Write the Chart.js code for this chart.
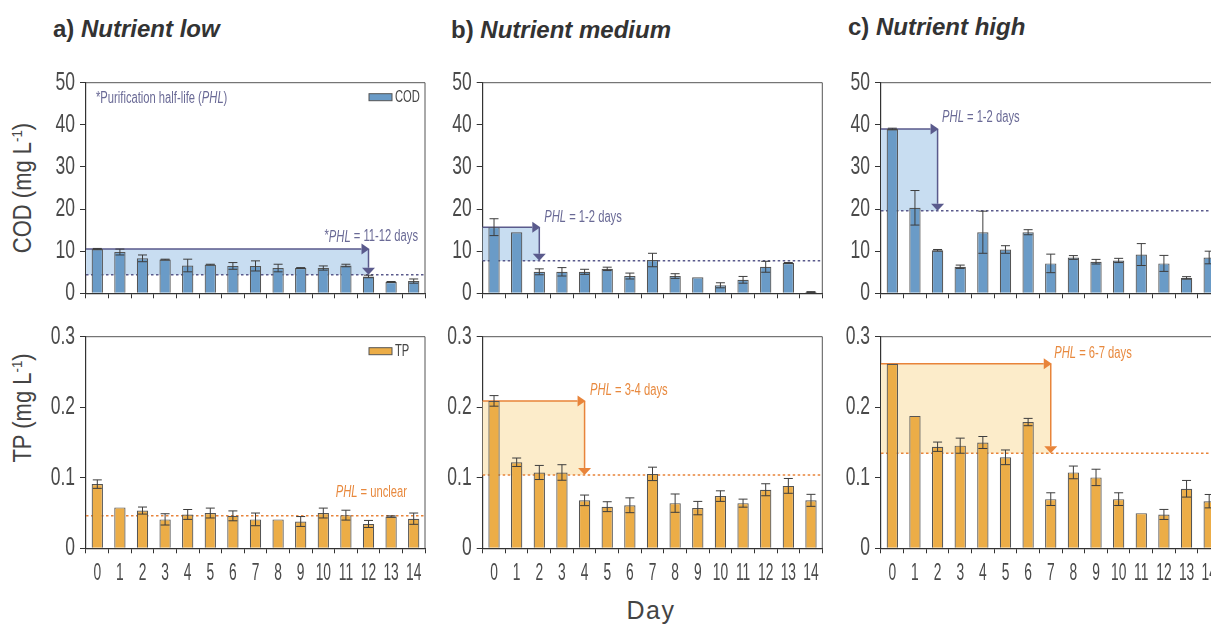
<!DOCTYPE html>
<html>
<head>
<meta charset="utf-8">
<script src="https://cdn.jsdelivr.net/npm/chart.js@4.4.1/dist/chart.umd.min.js"></script>
<style>
html, body { margin: 0; padding: 0; background: #fff; }
body { position: relative; width: 1211px; height: 626px; overflow: hidden; font-family: 'Liberation Sans', Arial, sans-serif; }
canvas { position: absolute; }
.title { position: absolute; font-size: 24px; line-height: 1; font-weight: bold; color: #333; white-space: nowrap; }
.ylab { position: absolute; font-size: 25px; line-height: 1; color: #444; white-space: nowrap;
        transform: translate(-50%, -50%) rotate(-90deg) scaleX(0.88); }
.ylab sup { font-size: 60%; vertical-align: 0.55em; }
.xlab { position: absolute; font-size: 25px; line-height: 1; color: #444; letter-spacing: 1.5px; transform: translateX(-50%); }
</style>
</head>
<body>
<div class="title" style="left:53px; top:17px">a) <i>Nutrient low</i></div>
<div class="title" style="left:451px; top:18px">b) <i>Nutrient medium</i></div>
<div class="title" style="left:848px; top:15px">c) <i>Nutrient high</i></div>
<div class="ylab" style="left:22px; top:188px">COD (mg L<sup>-1</sup>)</div>
<div class="ylab" style="left:22px; top:408px">TP (mg L<sup>-1</sup>)</div>
<div class="xlab" style="left:651px; top:598px">Day</div>

<canvas id="aTop"></canvas>
<canvas id="aBot"></canvas>
<canvas id="bTop"></canvas>
<canvas id="bBot"></canvas>
<canvas id="cTop"></canvas>
<canvas id="cBot"></canvas>

<script>
// categories
const days = ['0', '1', '2', '3', '4', '5', '6', '7', '8', '9', '10', '11', '12', '13', '14']
const codTicks = ['0', '10', '20', '30', '40', '50']
const tpTicks = ['0', '0.1', '0.2', '0.3']

// COD (mg/L), mean and error
const codLow = [10.5, 9.8, 8.3, 8.0, 6.6, 6.8, 6.5, 6.5, 6.0, 6.0, 6.0, 6.6, 4.0, 2.7, 2.9]
const codLowErr = [0.15, 0.7, 0.8, 0.1, 1.5, 0.1, 0.8, 1.2, 0.9, 0.1, 0.5, 0.3, 0.3, 0.1, 0.5]
const codMed = [15.7, 14.5, 5.1, 5.1, 5.1, 5.8, 4.1, 7.9, 4.1, 3.8, 1.9, 3.2, 6.3, 7.2, 0.3]
const codMedErr = [2.0, 0, 0.7, 1.0, 0.6, 0.4, 0.7, 1.6, 0.55, 0, 0.6, 0.8, 1.3, 0.1, 0.1]
const codHigh = [39.0, 20.3, 10.2, 6.3, 14.5, 10.4, 14.5, 7.1, 8.5, 7.5, 7.8, 9.2, 7.1, 3.65, 8.5]
const codHighErr = [0.2, 4.1, 0.2, 0.4, 5.0, 0.9, 0.6, 2.2, 0.45, 0.55, 0.5, 2.6, 1.9, 0.3, 1.5]

// TP (mg/L), mean and error
const tpLow = [0.091, 0.058, 0.0535, 0.041, 0.048, 0.050, 0.046, 0.041, 0.041, 0.038, 0.050, 0.047, 0.0345, 0.045, 0.042]
const tpLowErr = [0.006, 0, 0.005, 0.008, 0.007, 0.007, 0.007, 0.009, 0, 0.007, 0.007, 0.007, 0.005, 0.001, 0.008]
const tpMed = [0.209, 0.122, 0.1075, 0.1075, 0.068, 0.059, 0.061, 0.1055, 0.064, 0.057, 0.074, 0.064, 0.083, 0.0885, 0.068]
const tpMedErr = [0.0075, 0.006, 0.01, 0.011, 0.0075, 0.007, 0.0105, 0.0095, 0.013, 0.0095, 0.0075, 0.0057, 0.0085, 0.0105, 0.0085]
const tpHigh = [0.2616, 0.1877, 0.144, 0.1455, 0.150, 0.129, 0.179, 0.0697, 0.1076, 0.1005, 0.0697, 0.0498, 0.048, 0.0844, 0.0668]
const tpHighErr = [0, 0, 0.0066, 0.0107, 0.0085, 0.0104, 0.0052, 0.009, 0.009, 0.0116, 0.009, 0, 0.0071, 0.0118, 0.0095]

// purification half-life: half level, day reached, note
const codPhlLevel = [4.4, 7.7, 19.6]
const codPhlDay = [12, 2, 2]
const codPhlNote = ['*PHL = 11-12 days', 'PHL = 1-2 days', 'PHL = 1-2 days']
const tpPhlLevel = [0.046, 0.104, 0.1346]
const tpPhlDay = [null, 4, 7]
const tpPhlNote = ['PHL = unclear', 'PHL = 3-4 days', 'PHL = 6-7 days']

const BLUE = '#6a9bc7'
const ORANGE = '#ecad47'
const COD_INK = '#5a5a8c'
const TP_INK = '#e8843a'
const FONT = "'Liberation Sans', Arial, sans-serif"

// text squeezed horizontally like the figure's condensed type; "PHL" in italic
function squeezeText(ctx, text, x, y, align, size, sx, color) {
  const parts = []
  text.split('PHL').forEach((s, i) => {
    if (i > 0) parts.push({ t: 'PHL', it: true })
    if (s) parts.push({ t: s, it: false })
  })
  ctx.save()
  ctx.fillStyle = color
  ctx.textBaseline = 'middle'
  ctx.textAlign = 'left'
  let w = 0
  parts.forEach(p => {
    ctx.font = (p.it ? 'italic ' : '') + size + 'px ' + FONT
    p.w = ctx.measureText(p.t).width
    w += p.w
  })
  let x0 = x
  if (align === 'right') x0 = x - w * sx
  else if (align === 'center') x0 = x - w * sx / 2
  ctx.translate(x0, y)
  ctx.scale(sx, 1)
  let px = 0
  parts.forEach(p => {
    ctx.font = (p.it ? 'italic ' : '') + size + 'px ' + FONT
    ctx.fillText(p.t, px, 0)
    px += p.w
  })
  ctx.restore()
}

function phlPlugin(o) {
  return {
    id: 'phl',
    beforeDatasetsDraw(chart) {
      const { ctx, chartArea: a, scales: { x, y } } = chart
      const yLine = y.getPixelForValue(o.level)
      ctx.save()
      if (o.day !== null) {
        const xa = x.getPixelForValue(o.day)
        const yTop = y.getPixelForValue(o.from)
        ctx.fillStyle = o.shade
        ctx.fillRect(a.left, yTop, xa - a.left, yLine - yTop)
        ctx.strokeStyle = o.ink
        ctx.fillStyle = o.ink
        ctx.lineWidth = 1.5
        ctx.beginPath()
        ctx.moveTo(a.left, yTop); ctx.lineTo(xa - 7, yTop)
        ctx.moveTo(xa, yTop); ctx.lineTo(xa, yLine - 7)
        ctx.stroke()
        ctx.beginPath()
        ctx.moveTo(xa + 1, yTop); ctx.lineTo(xa - 7, yTop - 5.5); ctx.lineTo(xa - 7, yTop + 5.5)
        ctx.closePath(); ctx.fill()
        ctx.beginPath()
        ctx.moveTo(xa, yLine); ctx.lineTo(xa - 6.5, yLine - 7); ctx.lineTo(xa + 6.5, yLine - 7)
        ctx.closePath(); ctx.fill()
      }
      ctx.setLineDash([2.5, 2.5])
      ctx.lineWidth = 1.5
      ctx.strokeStyle = o.ink
      ctx.beginPath()
      ctx.moveTo(a.left, yLine); ctx.lineTo(a.right, yLine)
      ctx.stroke()
      ctx.restore()
    },
    afterDatasetsDraw(chart) {
      const { ctx, chartArea: a, scales: { x, y } } = chart
      const ds = chart.data.datasets[0]
      // error bars
      ctx.save()
      ctx.strokeStyle = '#3d3d3d'
      ctx.lineWidth = 1
      ds.data.forEach((v, i) => {
        const e = o.err[i]
        if (!e) return
        const px = x.getPixelForValue(i)
        const y1 = y.getPixelForValue(v + e)
        const y2 = y.getPixelForValue(Math.max(v - e, 0))
        ctx.beginPath()
        ctx.moveTo(px, y1); ctx.lineTo(px, y2)
        ctx.moveTo(px - 4.5, y1); ctx.lineTo(px + 4.5, y1)
        ctx.moveTo(px - 4.5, y2); ctx.lineTo(px + 4.5, y2)
        ctx.stroke()
      })
      // top and right frame
      ctx.strokeStyle = '#555'
      ctx.beginPath()
      ctx.moveTo(a.left, a.top); ctx.lineTo(a.right, a.top); ctx.lineTo(a.right, a.bottom)
      ctx.stroke()
      ctx.restore()

      // PHL note
      const n = o.notePos
      const nx = n.align === 'right' ? a.right + n.dx : x.getPixelForValue(o.day) + n.dx
      const ny = y.getPixelForValue(n.ref === 'line' ? o.level : o.from) + n.dy
      squeezeText(ctx, o.note, nx, ny, n.align, 16, 0.7, o.noteColor)

      if (o.header) squeezeText(ctx, o.header, a.left + 10, a.top + 16, 'left', 16, 0.7, o.noteColor)
      if (o.legend) {
        ctx.save()
        ctx.fillStyle = ds.backgroundColor
        ctx.strokeStyle = '#555'
        ctx.lineWidth = 1
        ctx.fillRect(a.right - 56, a.top + 11, 23, 7)
        ctx.strokeRect(a.right - 56, a.top + 11, 23, 7)
        ctx.restore()
        squeezeText(ctx, ds.label, a.right - 30, a.top + 15, 'left', 16, 0.7, '#444')
      }
    },
    afterDraw(chart) {
      // condensed tick labels at the scales' own tick positions
      const { ctx, chartArea: a, scales: { x, y } } = chart
      y.ticks.forEach((t, i) => {
        squeezeText(ctx, o.yTicks[i], a.left - 11, y.getPixelForTick(i), 'right', 25, 0.7, '#4a4a4a')
      })
      if (o.xLabels) {
        x.ticks.forEach((t, i) => {
          squeezeText(ctx, days[i], x.getPixelForTick(i), a.bottom + 25, 'center', 23, 0.6, '#4a4a4a')
        })
      }
    }
  }
}

function panel(id, rect, area, cfg) {
  const cv = document.getElementById(id)
  cv.width = rect.w
  cv.height = rect.h
  cv.style.left = rect.x + 'px'
  cv.style.top = rect.y + 'px'
  const yWidth = area.l - rect.x
  const xHeight = rect.y + rect.h - area.b
  cfg.phl.yTicks = cfg.ticks
  cfg.phl.xLabels = cfg.xLabels
  return new Chart(cv, {
    type: 'bar',
    data: {
      labels: days,
      datasets: [{
        label: cfg.label,
        data: cfg.values,
        backgroundColor: cfg.color,
        borderColor: '#555',
        borderWidth: 1.2,
        barPercentage: 0.5,
        categoryPercentage: 1
      }]
    },
    options: {
      responsive: false,
      animation: false,
      events: [],
      layout: { padding: { left: 0, top: area.t - rect.y, right: rect.x + rect.w - area.r, bottom: 0 } },
      plugins: { legend: { display: false }, tooltip: { enabled: false } },
      scales: {
        x: {
          offset: true,
          grid: { offset: true, drawOnChartArea: false, tickLength: 5, color: '#333' },
          border: { color: '#333', width: 1.2 },
          ticks: { display: false, autoSkip: false, maxRotation: 0, minRotation: 0 },
          afterFit: s => { s.height = xHeight }
        },
        y: {
          min: 0,
          max: cfg.max,
          ticks: { display: false, stepSize: cfg.step },
          grid: { drawOnChartArea: false, tickLength: 6, color: '#333' },
          border: { color: '#333', width: 1.2 },
          afterFit: s => { s.width = yWidth }
        }
      }
    },
    plugins: [phlPlugin(cfg.phl)]
  })
}

const topRow = { t: 82.7, b: 293.3 }
const botRow = { t: 336.7, b: 548.3 }
const cols = [
  { x: 40, l: 86, r: 425 },
  { x: 440, l: 482.7, r: 822.3 },
  { x: 840, l: 881, r: 1220.5 }
]
const notePlaces = [
  { cod: { align: 'right', dx: -7, dy: -12, ref: 'from' }, tp: { align: 'right', dx: -18, dy: -23, ref: 'line' } },
  { cod: { align: 'left', dx: 5, dy: -9.5, ref: 'from' }, tp: { align: 'left', dx: 5.5, dy: -10, ref: 'from' } },
  { cod: { align: 'left', dx: 4.5, dy: -11, ref: 'from' }, tp: { align: 'left', dx: 3.5, dy: -10.5, ref: 'from' } }
]
const codSets = [[codLow, codLowErr], [codMed, codMedErr], [codHigh, codHighErr]]
const tpSets = [[tpLow, tpLowErr], [tpMed, tpMedErr], [tpHigh, tpHighErr]]
const ids = [['aTop', 'aBot'], ['bTop', 'bBot'], ['cTop', 'cBot']]

cols.forEach((c, k) => {
  panel(ids[k][0], { x: c.x, y: 60, w: 400, h: 250 }, { l: c.l, r: c.r, t: topRow.t, b: topRow.b }, {
    label: 'COD', values: codSets[k][0], color: BLUE, max: 50, step: 10, ticks: codTicks, xLabels: false,
    phl: {
      err: codSets[k][1], from: codSets[k][0][0], level: codPhlLevel[k], day: codPhlDay[k],
      shade: '#c8ddf1', ink: COD_INK, note: codPhlNote[k], noteColor: '#6a6a96', notePos: notePlaces[k].cod,
      header: k === 0 ? '*Purification half-life (PHL)' : null, legend: k === 0
    }
  })
  panel(ids[k][1], { x: c.x, y: 320, w: 400, h: 290 }, { l: c.l, r: c.r, t: botRow.t, b: botRow.b }, {
    label: 'TP', values: tpSets[k][0], color: ORANGE, max: 0.3, step: 0.1, ticks: tpTicks, xLabels: true,
    phl: {
      err: tpSets[k][1], from: tpSets[k][0][0], level: tpPhlLevel[k], day: tpPhlDay[k],
      shade: '#fcecca', ink: TP_INK, note: tpPhlNote[k], noteColor: '#e8893e', notePos: notePlaces[k].tp,
      header: null, legend: k === 0
    }
  })
})
</script>
</body>
</html>
